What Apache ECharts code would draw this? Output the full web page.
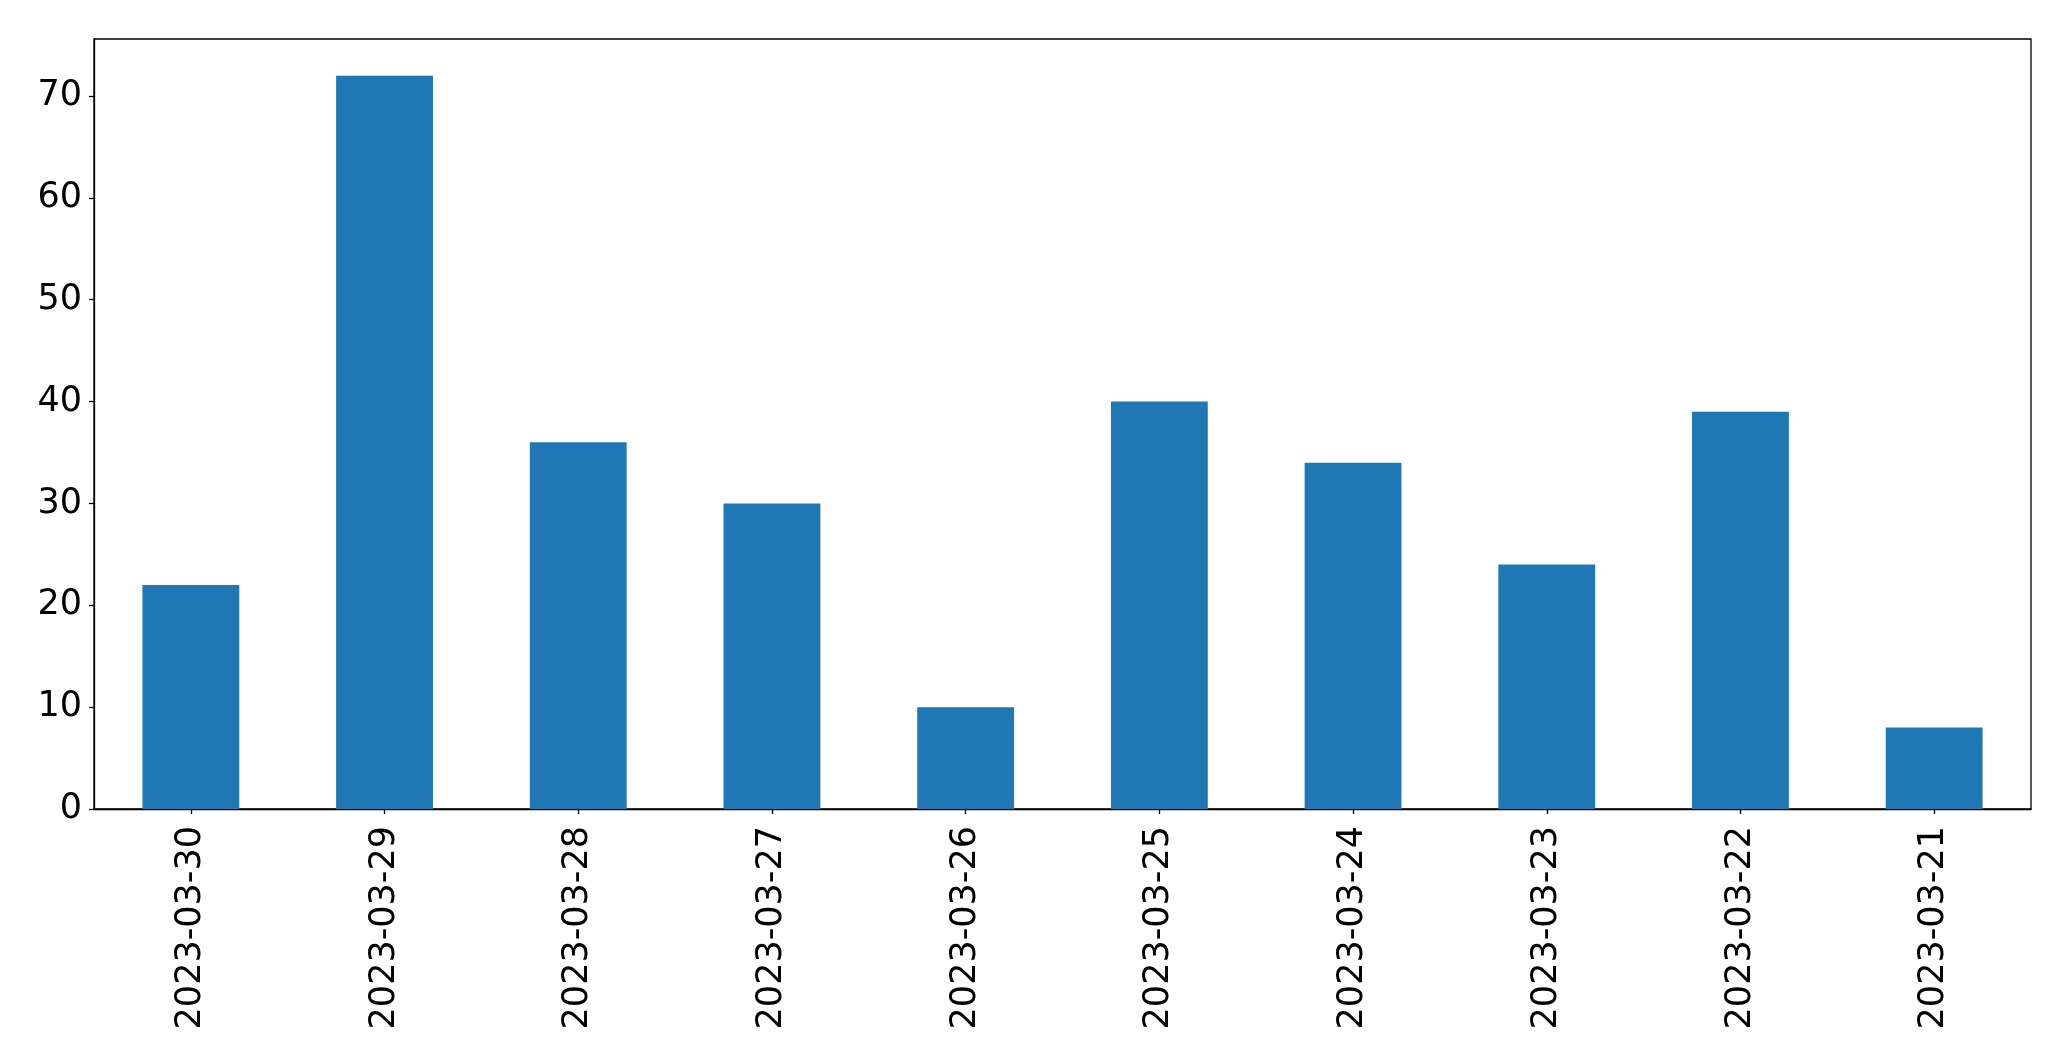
<!DOCTYPE html>
<html>
<head>
<meta charset="utf-8">
<script src="https://cdn.jsdelivr.net/npm/echarts@6/dist/echarts.min.js"></script>
<style>html,body{margin:0;padding:0;background:#fff;}#c{width:2071px;height:1061px;}</style>
</head>
<body>
<div id="c"></div>
<script>
var categories = ['2023-03-30','2023-03-29','2023-03-28','2023-03-27','2023-03-26','2023-03-25','2023-03-24','2023-03-23','2023-03-22','2023-03-21'];
var values = [22, 72, 36, 30, 10, 40, 34, 24, 39, 8];
var yTicks = [0, 10, 20, 30, 40, 50, 60, 70];
var yMax = 75.6;

var chart = echarts.init(document.getElementById('c'));
var font = 'DejaVu Sans';
chart.setOption({
  animation: false,
  backgroundColor: '#fff',
  grid: {left: 94, right: 40, top: 39, bottom: 252, show: true, borderColor: '#000', borderWidth: 1.3, containLabel: false},
  xAxis: {
    type: 'category',
    data: categories,
    axisLine: {show: true, lineStyle: {color: '#000', width: 1.3}},
    axisTick: {show: true, alignWithLabel: true, length: 5, lineStyle: {color: '#000', width: 1.3}},
    axisLabel: {rotate: 90, margin: 17, fontFamily: font, fontSize: 35, color: '#000', interval: 0},
    splitLine: {show: false}
  },
  yAxis: {
    type: 'value',
    min: 0, max: yMax,
    axisLine: {show: true, lineStyle: {color: '#000', width: 1.3}},
    axisTick: {show: true, length: 5, customValues: yTicks, lineStyle: {color: '#000', width: 1.3}},
    axisLabel: {margin: 12, fontFamily: font, fontSize: 35, color: '#000', customValues: yTicks},
    splitLine: {show: false}
  },
  series: [{
    type: 'bar',
    data: values,
    barWidth: '50%',
    itemStyle: {color: '#1f77b4'}
  }]
});
</script>
</body>
</html>
